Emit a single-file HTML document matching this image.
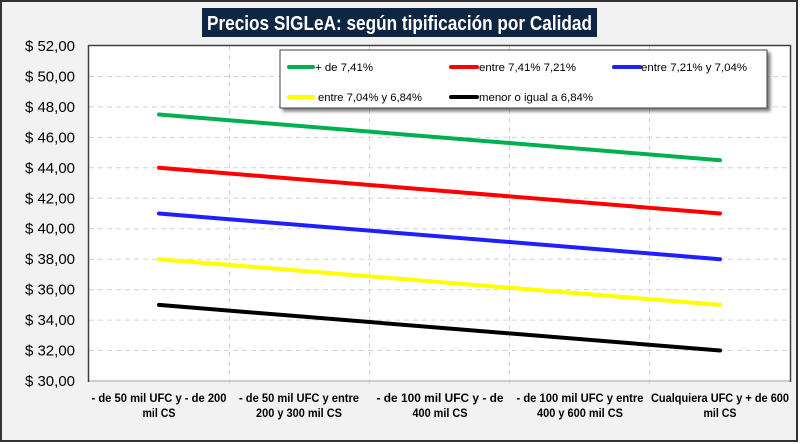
<!DOCTYPE html>
<html>
<head>
<meta charset="utf-8">
<style>
  html,body{margin:0;padding:0;background:#f2f2f2;}
  svg{display:block;}
  text{font-family:"Liberation Sans",Arial,sans-serif;}
</style>
</head>
<body>
<svg width="800" height="444" viewBox="0 0 800 444" xmlns="http://www.w3.org/2000/svg">
  <defs>
    <filter id="sh" x="-5%" y="-20%" width="110%" height="150%">
      <feGaussianBlur in="SourceAlpha" stdDeviation="1.5"/>
      <feOffset dx="3" dy="3" result="o"/>
      <feComponentTransfer><feFuncA type="linear" slope="0.5"/></feComponentTransfer>
      <feMerge><feMergeNode/><feMergeNode in="SourceGraphic"/></feMerge>
    </filter>
  </defs>
  <!-- background + outer border -->
  <rect x="0" y="0" width="800" height="444" fill="#ffffff"/>
  <rect x="1" y="1" width="796" height="440" fill="#f2f2f2" stroke="#333" stroke-width="2"/>

  <!-- title -->
  <rect x="202" y="8" width="395" height="29" fill="#0f2642"/>
  <text x="399.5" y="30" text-anchor="middle" font-size="20" font-weight="bold" fill="#ffffff" textLength="385" lengthAdjust="spacingAndGlyphs">Precios SIGLeA: según tipificación por Calidad</text>

  <!-- plot area -->
  <rect x="89" y="46" width="701" height="335" fill="#ffffff"/>

  <!-- horizontal gridlines -->
  <g stroke="#d4d4d4" stroke-width="1" stroke-dasharray="5,4">
    <line x1="89" x2="790" y1="350.5" y2="350.5"/>
    <line x1="89" x2="790" y1="320.1" y2="320.1"/>
    <line x1="89" x2="790" y1="289.6" y2="289.6"/>
    <line x1="89" x2="790" y1="259.2" y2="259.2"/>
    <line x1="89" x2="790" y1="228.7" y2="228.7"/>
    <line x1="89" x2="790" y1="198.3" y2="198.3"/>
    <line x1="89" x2="790" y1="167.8" y2="167.8"/>
    <line x1="89" x2="790" y1="137.4" y2="137.4"/>
    <line x1="89" x2="790" y1="106.9" y2="106.9"/>
    <line x1="89" x2="790" y1="76.5" y2="76.5"/>
  </g>
  <!-- vertical gridlines -->
  <g stroke="#d4d4d4" stroke-width="1" stroke-dasharray="5,4">
    <line x1="229.5" x2="229.5" y1="46" y2="385"/>
    <line x1="369.5" x2="369.5" y1="46" y2="385"/>
    <line x1="509.5" x2="509.5" y1="46" y2="385"/>
    <line x1="649.5" x2="649.5" y1="46" y2="385"/>
  </g>

  <!-- plot borders -->
  <line x1="89" y1="381" x2="790" y2="381" stroke="#bfbfbf" stroke-width="1.5"/>
  <line x1="88.5" y1="45.5" x2="790.5" y2="45.5" stroke="#404040" stroke-width="1.5"/>
  <line x1="88.5" y1="45" x2="88.5" y2="382" stroke="#404040" stroke-width="1.5"/>
  <line x1="790.5" y1="45" x2="790.5" y2="382" stroke="#404040" stroke-width="1.5"/>

  <!-- series -->
  <g stroke-width="4" stroke-linecap="round" fill="none">
    <line x1="159" y1="114.5" x2="720" y2="160.2" stroke="#00b050"/>
    <line x1="159" y1="167.8" x2="720" y2="213.5" stroke="#ff0000"/>
    <line x1="159" y1="213.5" x2="720" y2="259.2" stroke="#1f1fff"/>
    <line x1="159" y1="259.2" x2="720" y2="304.9" stroke="#ffff00"/>
    <line x1="159" y1="304.9" x2="720" y2="350.5" stroke="#000000"/>
  </g>

  <!-- y-axis labels -->
  <g font-size="15" fill="#000" text-anchor="end">
    <text x="75" y="386">$ 30,00</text>
    <text x="75" y="355.5">$ 32,00</text>
    <text x="75" y="325.1">$ 34,00</text>
    <text x="75" y="294.6">$ 36,00</text>
    <text x="75" y="264.2">$ 38,00</text>
    <text x="75" y="233.7">$ 40,00</text>
    <text x="75" y="203.3">$ 42,00</text>
    <text x="75" y="172.8">$ 44,00</text>
    <text x="75" y="142.4">$ 46,00</text>
    <text x="75" y="111.9">$ 48,00</text>
    <text x="75" y="81.5">$ 50,00</text>
    <text x="75" y="51">$ 52,00</text>
  </g>

  <!-- x-axis labels -->
  <g font-size="12" font-weight="bold" fill="#000" text-anchor="middle">
    <text x="159" y="402" textLength="135" lengthAdjust="spacingAndGlyphs">- de 50 mil UFC y - de 200</text>
    <text x="159" y="417" textLength="33" lengthAdjust="spacingAndGlyphs">mil CS</text>
    <text x="299" y="402" textLength="120" lengthAdjust="spacingAndGlyphs">- de 50 mil UFC y entre</text>
    <text x="299" y="417" textLength="86" lengthAdjust="spacingAndGlyphs">200 y 300 mil CS</text>
    <text x="440" y="402" textLength="127" lengthAdjust="spacingAndGlyphs">- de 100 mil UFC y - de</text>
    <text x="440" y="417" textLength="55" lengthAdjust="spacingAndGlyphs">400 mil CS</text>
    <text x="580" y="402" textLength="127" lengthAdjust="spacingAndGlyphs">- de 100 mil UFC y entre</text>
    <text x="580" y="417" textLength="86" lengthAdjust="spacingAndGlyphs">400 y 600 mil CS</text>
    <text x="720" y="402" textLength="138" lengthAdjust="spacingAndGlyphs">Cualquiera UFC y + de 600</text>
    <text x="720" y="417" textLength="33" lengthAdjust="spacingAndGlyphs">mil CS</text>
  </g>

  <!-- legend -->
  <rect x="280" y="50" width="487" height="58" fill="#ffffff" stroke="#404040" stroke-width="1" filter="url(#sh)"/>
  <g stroke-width="4" stroke-linecap="round">
    <line x1="289" y1="67" x2="313" y2="67" stroke="#00b050"/>
    <line x1="451" y1="67" x2="477" y2="67" stroke="#ff0000"/>
    <line x1="614" y1="67" x2="640" y2="67" stroke="#1f1fff"/>
    <line x1="289" y1="97" x2="313" y2="97" stroke="#ffff00"/>
    <line x1="451" y1="97" x2="477" y2="97" stroke="#000000"/>
  </g>
  <g font-size="11" fill="#000">
    <text x="315" y="71" textLength="58" lengthAdjust="spacingAndGlyphs">+ de 7,41%</text>
    <text x="479" y="71" textLength="97" lengthAdjust="spacingAndGlyphs">entre 7,41% 7,21%</text>
    <text x="641" y="71" textLength="106" lengthAdjust="spacingAndGlyphs">entre 7,21% y 7,04%</text>
    <text x="318" y="101" textLength="104" lengthAdjust="spacingAndGlyphs">entre 7,04% y 6,84%</text>
    <text x="479" y="101" textLength="114" lengthAdjust="spacingAndGlyphs">menor o igual a 6,84%</text>
  </g>
</svg>
</body>
</html>
